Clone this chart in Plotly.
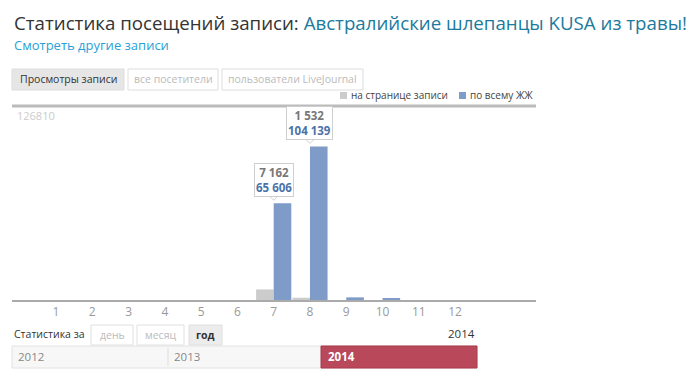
import plotly.graph_objects as go

# ---- data ----
months = [1, 2, 3, 4, 5, 6, 7, 8, 9, 10, 11, 12]
month_labels = ["1", "2", "3", "4", "5", "6", "7", "8", "9", "10", "11", "12"]
page_views = [0, 0, 0, 0, 0, 0, 7162, 1532, 0, 0, 0, 0]
lj_views = [0, 0, 0, 0, 0, 0, 65606, 104139, 1800, 700, 0, 0]
y_max_label = 126810
series_names = ["на странице записи", "по всему ЖЖ"]
years = ["2012", "2013", "2014"]

OFF = 8  # browser body margin
W, H = 700 - OFF, 383 - OFF
L, R, T, B = 12, 536, 113, 300  # plot area in window pixels
GRAY = "#cccccc"
BLUE = "#7e9cc7"
RED = "#b9485a"


def px(x):
    return (x - L) / (R - L)


def py(y):
    return (B - y) / (B - T)


fig = go.Figure()
fig.add_trace(go.Bar(x=months, y=page_views, name=series_names[0],
                     marker=dict(color=GRAY, line=dict(width=0)), hoverinfo="skip"))
fig.add_trace(go.Bar(x=months, y=lj_views, name=series_names[1],
                     marker=dict(color=BLUE, line=dict(width=0)), hoverinfo="skip"))

shapes = []
ann = []

FONT = "Open Sans"

# title
ann.append(dict(x=px(12), y=py(22), xref="paper", yref="paper", xanchor="left", yanchor="middle",
                showarrow=False,
                text="<span style='color:#333333'>Статистика посещений записи: </span>"
                     "<span style='color:#1b7a9e'>Австралийские шлепанцы KUSA из травы!</span>",
                font=dict(family=FONT, size=18.7)))
ann.append(dict(x=px(12), y=py(45), xref="paper", yref="paper", xanchor="left", yanchor="middle",
                showarrow=False, text="Смотреть другие записи",
                font=dict(family=FONT, size=13, color="#2a9fd6")))

# top tabs
tabs = [("Просмотры записи", 12, 124, True), ("все посетители", 128, 218, False),
        ("пользователи LiveJournal", 222, 363, False)]
for label, x0, x1, active in tabs:
    shapes.append(dict(type="rect", xref="paper", yref="paper", x0=px(x0), x1=px(x1),
                       y0=py(90), y1=py(69), fillcolor="#e6e6e6" if active else "#ffffff",
                       line=dict(color="#dddddd", width=1), layer="below"))
    ann.append(dict(x=px((x0 + x1) / 2), y=py(79), xref="paper", yref="paper",
                    xanchor="center", yanchor="middle", showarrow=False, text=label,
                    font=dict(family=FONT, size=10.5, color="#333333" if active else "#bbbbbb")))

# top rule
shapes.append(dict(type="line", xref="paper", yref="paper", x0=0, x1=1, y0=py(106), y1=py(106),
                   line=dict(color="#bbbbbb", width=3)))

# legend (manual)
leg = [(series_names[0], 340, GRAY), (series_names[1], 459, BLUE)]
for name, x0, col in leg:
    shapes.append(dict(type="rect", xref="paper", yref="paper", x0=px(x0), x1=px(x0 + 7),
                       y0=py(99), y1=py(92), fillcolor=col, line=dict(width=0)))
    ann.append(dict(x=px(x0 + 9), y=py(95), xref="paper", yref="paper", xanchor="left",
                    yanchor="middle", showarrow=False, text=name,
                    font=dict(family=FONT, size=10, color="#444444")))

# max label
ann.append(dict(x=px(15), y=py(116), xref="paper", yref="paper", xanchor="left", yanchor="middle",
                showarrow=False, text=str(y_max_label),
                font=dict(family=FONT, size=11, color="#cccccc")))


def fmt(v):
    return f"{v:,}".replace(",", " ")


# tooltips
for m in (7, 8):
    i = months.index(m)
    top = lj_views[i]
    ann.append(dict(x=m, y=top, xref="x", yref="y", xanchor="center", yanchor="bottom",
                    yshift=6, showarrow=False,
                    text=f"<b><span style='color:#777777'>{fmt(page_views[i])}</span><br>"
                         f"<span style='color:#4b72aa'>{fmt(top)}</span></b>",
                    font=dict(family=FONT, size=11.5), bgcolor="#ffffff",
                    bordercolor="#cfcfcf", borderwidth=1, borderpad=1))
    shapes.append(dict(type="path", xref="x", yref="y", xsizemode="pixel", ysizemode="pixel",
                       xanchor=m, yanchor=top, path="M -4,7 L 0,3 L 4,7 Z",
                       fillcolor="#ffffff", line=dict(color="#cfcfcf", width=1)))

# bottom controls
ann.append(dict(x=px(12), y=py(334), xref="paper", yref="paper", xanchor="left", yanchor="middle",
                showarrow=False, text="Статистика за",
                font=dict(family=FONT, size=10.5, color="#333333")))
btabs = [("день", 91, 133, False), ("месяц", 137, 184, False), ("год", 189, 222, True)]
for label, x0, x1, active in btabs:
    shapes.append(dict(type="rect", xref="paper", yref="paper", x0=px(x0), x1=px(x1),
                       y0=py(345), y1=py(325), fillcolor="#ececec" if active else "#ffffff",
                       line=dict(color="#e0e0e0", width=1), layer="below"))
    ann.append(dict(x=px((x0 + x1) / 2), y=py(335), xref="paper", yref="paper",
                    xanchor="center", yanchor="middle", showarrow=False,
                    text=f"<b>{label}</b>" if active else label,
                    font=dict(family=FONT, size=10.5, color="#333333" if active else "#bbbbbb")))
ann.append(dict(x=px(477), y=py(333), xref="paper", yref="paper", xanchor="right", yanchor="middle",
                showarrow=False, text=years[2], font=dict(family=FONT, size=11.5, color="#333333")))

# timeline
shapes.append(dict(type="rect", xref="paper", yref="paper", x0=px(12), x1=px(477),
                   y0=py(368), y1=py(346), fillcolor="#f7f7f7",
                   line=dict(color="#e2e2e2", width=1), layer="below"))
shapes.append(dict(type="line", xref="paper", yref="paper", x0=px(168), x1=px(168),
                   y0=py(366), y1=py(348), line=dict(color="#dddddd", width=1)))
shapes.append(dict(type="rect", xref="paper", yref="paper", x0=px(321), x1=px(477),
                   y0=py(368), y1=py(346), fillcolor=RED, line=dict(color="#a83a4c", width=1)))
for label, x0, col, bold in [(years[0], 16, "#888888", False), (years[1], 172, "#888888", False),
                             (years[2], 326, "#ffffff", True)]:
    ann.append(dict(x=px(x0), y=py(356), xref="paper", yref="paper", xanchor="left",
                    yanchor="middle", showarrow=False,
                    text=f"<b>{label}</b>" if bold else label,
                    font=dict(family=FONT, size=11.5, color=col)))

fig.update_layout(
    width=W, height=H,
    margin=dict(l=L - OFF, r=W - (R - OFF), t=T - OFF, b=H - (B - OFF), pad=0),
    paper_bgcolor="#ffffff", plot_bgcolor="#ffffff",
    barmode="group", bargap=0.03, bargroupgap=0.0,
    showlegend=False,
    shapes=shapes, annotations=ann,
    xaxis=dict(range=[-0.213, 14.23], tickmode="array", tickvals=months, ticktext=month_labels,
               showgrid=False, zeroline=False, showline=True, linecolor="#aaaaaa", linewidth=1.5,
               ticks="", tickfont=dict(family=FONT, size=12, color="#999999"), fixedrange=True),
    yaxis=dict(range=[0, y_max_label], showgrid=False, zeroline=False, showline=False,
               showticklabels=False, fixedrange=True),
    font=dict(family=FONT),
)

fig.write_html("out.html", config={"displayModeBar": False})
